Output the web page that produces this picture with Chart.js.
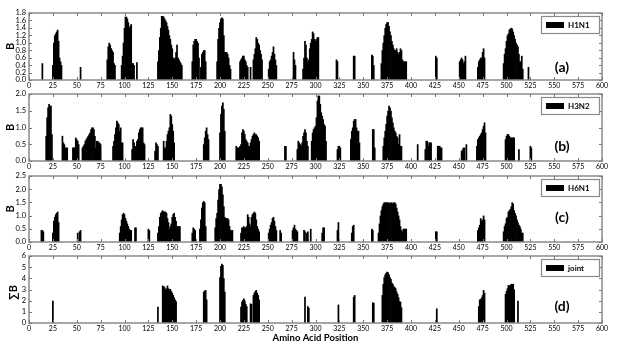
<!DOCTYPE html>
<html>
<head>
<meta charset="utf-8">
<script src="https://cdn.jsdelivr.net/npm/chart.js@4.4.1/dist/chart.umd.min.js"></script>
<style>
  html, body { margin: 0; padding: 0; background: #fff; }
  #wrap { position: relative; width: 633px; height: 354px; background: #fff; overflow: hidden; }
  #wrap canvas { position: absolute; left: 0; }
</style>
</head>
<body>
<div id="wrap">
  <canvas id="pa" width="633" height="92" style="top:0px"></canvas>
  <canvas id="pb" width="633" height="92" style="top:81px"></canvas>
  <canvas id="pc" width="633" height="91" style="top:163px"></canvas>
  <canvas id="pd" width="633" height="111" style="top:243px"></canvas>
</div>
<script>
// ---------------- DATA ----------------
// Each run: [first amino acid position, [B values for consecutive positions]]
const h1n1Runs = [
  [14,[0.45]],
  [25,[0.4,1.0,1.2,1.25,1.3,1.35,1.05,0.6,0.5,0.4]],
  [54,[0.35]],
  [82,[0.55,0.9,1.0,0.95,0.85,0.8,0.75,0.45,0.4]],
  [97,[0.4,0.65,1.0,1.4,1.7,1.7,1.65,1.55,1.4,1.45,1.5,0.45,0.45,0.4]],
  [113,[0.48]],
  [135,[0.5,0.8,1.15,1.4,1.72,1.72,1.7,1.65,1.6,1.55,1.45,1.35,1.2,1.1,0.95,0.85,0.6,0.55,0.6,0.75,0.95,0.6,0.55,0.5,0.45,0.4]],
  [171,[0.5,0.95,1.05,1.1,1.1,1.05,1.0,0.6]],
  [180,[0.35,0.7,0.75,0.8,0.8,0.5]],
  [197,[0.5,1.1,1.4,1.55,1.65,1.68,1.65,1.2,0.75,0.75,0.75,0.7,0.6,0.4,0.3]],
  [221,[0.5,0.55,0.6,0.65,0.65,0.55,0.5,0.4,0.35]],
  [232,[0.35]],
  [235,[0.55,0.7,0.85,1.15,1.1,1.0,0.95,0.8,0.7,0.55]],
  [251,[0.3,0.5,0.55,0.65,0.75,0.9,0.7,0.55,0.4]],
  [277,[0.75,0.55,0.4]],
  [287,[0.3,0.6,1.05,0.95,0.6,0.5,0.55,0.85,1.0,1.1,1.3,1.25,1.1,1.05,1.1,1.15,1.15]],
  [322,[0.55,0.5]],
  [340,[0.65,0.65]],
  [359,[0.68,0.65,0.4]],
  [369,[0.45,0.8,1.0,1.2,1.4,1.5,1.55,1.55,1.45,1.3,1.2,1.05,0.95,0.85,0.8,0.8,0.85,0.75,0.7,0.75,0.85,0.8,0.55,0.5,0.5,0.5,0.5]],
  [426,[0.65,0.6]],
  [451,[0.5,0.55,0.6,0.55,0.45,0.5,0.65]],
  [470,[0.35,0.5,0.55,0.6,0.6,0.75,0.85,0.6]],
  [497,[0.45,0.7,0.85,1.05,1.2,1.25,1.35,1.38,1.4,1.38,1.3,1.2,1.1,1.0,0.95,0.9,0.7,0.5,0.5,0.65,0.3]],
  [523,[0.35]]
];
const h3n2Runs = [
  [18,[0.75,1.3,1.6,1.7,1.65,1.65,0.8]],
  [35,[0.75,0.55,0.5,0.4,0.4,0.4]],
  [46,[0.4,0.4,0.4,0.7,0.65,0.6,0.5]],
  [56,[0.4,0.45,0.5,0.6,0.65,0.7,0.75,0.8,0.85,0.95,1.0,1.0,0.95,0.75,0.4,0.6,0.6,0.55,0.55,0.5]],
  [88,[0.45,0.6,0.8,1.0,1.2,1.15,1.1,0.9,1.0,0.55,0.55]],
  [108,[0.35,0.65,0.55,0.45,0.45,0.6,0.65,0.85,0.95,1.0,1.0,1.0,0.55,0.5]],
  [132,[0.3,0.55,0.5,0.45]],
  [141,[0.6,0.4,0.4,0.6,0.8,0.9,1.0,1.4,1.35,1.1,0.9,0.55]],
  [183,[0.5,0.7,0.9,1.0,0.8,0.65]],
  [200,[0.85,1.4,1.65,1.75,1.55,0.9]],
  [217,[0.45,0.4,0.4,0.4,0.45,0.5,0.85,0.95,0.9,0.8,0.65,0.6,0.55,0.45,0.45,0.55,0.65,0.75,0.8,0.85,0.8,0.8,0.75,0.7,0.6]],
  [268,[0.45,0.45]],
  [281,[0.35,0.6,0.55,0.5,0.45,0.55,0.75,0.85,0.95,0.85,0.6,0.45]],
  [296,[0.6,0.85,0.95,1.0,1.05,1.3,1.8,1.95,1.95,1.7,1.45,1.35,1.25,1.1,1.05,0.6]],
  [323,[0.35,0.45,0.45,0.4]],
  [337,[0.65,0.9,1.0,1.2,1.25,1.25,1.0,0.9,0.9,0.55]],
  [360,[0.95,0.95,0.4]],
  [371,[0.45,0.7,0.9,1.1,1.35,1.5,1.65,1.6,1.5,1.3,1.15,1.0,0.9,0.85,0.75,0.7,0.5,0.8,0.45,0.45]],
  [407,[0.5]],
  [415,[0.35,0.6,0.6,0.45,0.55,0.55,0.55]],
  [428,[0.45,0.45,0.45,0.4,0.4]],
  [453,[0.3,0.35,0.4,0.4]],
  [458,[0.5]],
  [469,[0.45,0.65,0.7,0.75,0.8,0.85,0.95,1.05,1.15,0.85]],
  [499,[0.65,0.75,0.8,0.8,0.75,0.7,0.7,0.7,0.7,0.7]],
  [513,[0.35]],
  [525,[0.45,0.4]]
];
const h6n1Runs = [
  [13,[0.45,0.45,0.4]],
  [25,[0.35,0.8,0.95,1.05,1.1,1.15,0.75]],
  [51,[0.35]],
  [53,[0.4,0.45]],
  [95,[0.35,0.6,0.85,1.05,1.1,1.05,0.9,0.8,0.7,0.6,0.5,0.45,0.45]],
  [111,[0.55,0.55]],
  [125,[0.5,0.45]],
  [135,[0.35,0.6,0.95,1.1,1.15,1.2,1.15,1.15,1.15,1.1,0.9,0.75,0.5,0.6,0.7,0.95,1.05,1.1,0.95,0.8,0.6,0.6,0.6,0.6]],
  [171,[0.35,0.55,0.5,0.45]],
  [179,[0.5,0.85,1.3,1.5,1.55,1.5,0.6]],
  [195,[0.55,0.9,1.1,1.6,2.0,2.2,2.2,2.1,1.8,1.35,0.95,0.9,0.9,0.9,0.85,0.6,0.45,0.45,0.45]],
  [222,[0.35,0.55,0.55,0.6,0.55,0.55,0.6,1.05,0.95,0.7,0.6,0.95,1.05,1.1,1.15,1.1,0.85,0.6,0.5,0.4]],
  [251,[0.35,0.5,0.65,0.75,0.9,0.95,0.8,0.6,0.45]],
  [263,[0.45,0.35]],
  [276,[0.45,0.55,0.65,0.5,0.45,0.4]],
  [288,[0.45,0.4]],
  [291,[0.35,0.4]],
  [295,[0.5]],
  [307,[0.35,0.55,0.55]],
  [323,[0.45,0.75]],
  [338,[0.35,0.6,0.65]],
  [359,[0.5,0.45]],
  [366,[0.35,0.7,1.0,1.2,1.35,1.45,1.5,1.5,1.5,1.5,1.5,1.5,1.45,1.5,1.5,1.45,1.5,1.5,1.45,1.3,1.15,1.0,0.85,0.6,0.45,0.4,0.5,0.5,0.5,0.5]],
  [426,[0.4,0.4]],
  [470,[0.45,0.55,0.65,0.9,0.8,0.85,1.0,0.85]],
  [497,[0.4,0.6,0.7,0.9,0.95,1.15,1.2,1.25,1.35,1.5,1.45,1.2,1.1,1.0,0.85,0.75,0.65,0.6,0.5,0.35,0.35]]
];
const jointRuns = [
  [25,[2.0]],
  [135,[1.45]],
  [140,[3.35,3.3,3.2,3.0,3.1,3.35,3.1,3.0,3.05,2.85,2.7,2.5,2.3,2.1,1.95]],
  [183,[2.8,2.9,2.95,2.1]],
  [200,[4.1,5.1,5.3,5.2,4.0,2.8]],
  [222,[1.45,1.9,2.05,2.2,2.0,1.7,1.5]],
  [232,[1.75,1.7]],
  [235,[2.5,2.7,2.85,2.95,2.7,2.5,2.1]],
  [289,[2.35]],
  [292,[1.5,1.35]],
  [324,[1.65]],
  [340,[2.35,2.5]],
  [360,[1.85,1.8]],
  [370,[2.5,3.5,4.1,4.35,4.5,4.6,4.55,4.35,4.1,3.95,3.6,3.5,3.3,3.2,3.1,2.8,2.6,2.3,1.95,1.9,1.4]],
  [427,[1.3]],
  [471,[1.5,2.1,2.15,2.3,2.5,2.95,2.7]],
  [499,[2.6,2.85,3.1,3.4,3.35,3.4,3.5,3.5,3.5,3.0]],
  [512,[2.0]]
];
const seriesNames = ['H1N1','H3N2','H6N1','joint'];
const panelTags   = ['(a)','(b)','(c)','(d)'];
const yTitles     = ['B','B','B','\u2211B'];
const yMaxes      = [1.8, 2.0, 2.5, 6];
const ySteps      = [0.2, 0.5, 0.5, 1];
const yDecimals   = [1, 1, 1, 0];
const xMin = 0, xMax = 600, xStep = 25;
const xTitle = 'Amino Acid Position';

// ---------------- LAYOUT / STYLE ----------------
const FONT = 'Lato, "Open Sans", sans-serif';
const panelLayout = [
  {id:'pa', padTop:13, xH:12, tagDy:-13, yTitleX:10},
  {id:'pb', padTop:13, xH:12, tagDy:-15, yTitleX:10},
  {id:'pc', padTop:13, xH:12, tagDy:-25, yTitleX:10},
  {id:'pd', padTop:13, xH:31, tagDy:-17, yTitleX:13}
];

function expand(runs){
  const pts = [];
  runs.forEach(([start, vals]) => vals.forEach((v, i) => pts.push({x: start + i, y: v})));
  return pts;
}

const decor = {
  id: 'decor',
  afterDatasetsDraw(chart, args, o) {
    const {ctx, chartArea: a} = chart;
    const xs = chart.scales.x, ys = chart.scales.y;
    ctx.save();
    // frame
    ctx.strokeStyle = '#8a8a8a';
    ctx.lineWidth = 1.5;
    ctx.strokeRect(a.left, a.top, a.right - a.left, a.bottom - a.top);
    // inward tick marks
    ctx.lineWidth = 1;
    ctx.strokeStyle = '#7a7a7a';
    ctx.beginPath();
    xs.ticks.forEach(t => {
      const p = Math.round(xs.getPixelForValue(t.value)) + 0.5;
      ctx.moveTo(p, a.bottom); ctx.lineTo(p, a.bottom - 3);
      ctx.moveTo(p, a.top); ctx.lineTo(p, a.top + 3);
    });
    ys.ticks.forEach(t => {
      const p = Math.round(ys.getPixelForValue(t.value)) + 0.5;
      ctx.moveTo(a.left, p); ctx.lineTo(a.left + 3, p);
      ctx.moveTo(a.right, p); ctx.lineTo(a.right - 3, p);
    });
    ctx.stroke();
    // legend box
    const bw = 58, bh = 17;
    const bx = a.right - 3 - bw, by = a.top + 3;
    ctx.fillStyle = '#fff';
    ctx.fillRect(bx, by, bw, bh);
    ctx.strokeStyle = '#8a8a8a';
    ctx.lineWidth = 1.2;
    ctx.strokeRect(bx + 0.5, by + 0.5, bw, bh);
    ctx.fillStyle = '#000';
    ctx.fillRect(bx + 5, by + 6, 18, 6);
    ctx.font = 'bold 8px ' + FONT;
    ctx.textBaseline = 'middle';
    ctx.textAlign = 'left';
    ctx.fillText(o.name, bx + 27, by + 9.5);
    // panel tag
    ctx.font = 'bold 14px ' + FONT;
    ctx.textAlign = 'center';
    ctx.fillText(o.tag, 562, a.bottom + o.tagDy);
    // y title
    ctx.save();
    ctx.translate(o.yTitleX, (a.top + a.bottom) / 2 + (o.tag === '(d)' ? 3 : 0));
    ctx.rotate(-Math.PI / 2);
    ctx.font = 'bold 11px ' + FONT;
    ctx.fillText(o.yTitle, 0, 0);
    ctx.restore();
    // x title
    if (o.xTitle) {
      ctx.font = 'bold 9.5px ' + FONT;
      ctx.textAlign = 'center';
      ctx.fillText(o.xTitle, (a.left + a.right) / 2, a.bottom + 15);
    }
    ctx.restore();
  }
};

const runsList = [h1n1Runs, h3n2Runs, h6n1Runs, jointRuns];

runsList.forEach((runs, i) => {
  const L = panelLayout[i];
  const dec = yDecimals[i];
  new Chart(document.getElementById(L.id), {
    type: 'bar',
    data: {
      datasets: [{
        label: seriesNames[i],
        data: expand(runs),
        backgroundColor: '#000',
        borderWidth: 0,
        barPercentage: 1.8,
        categoryPercentage: 1,
        grouped: false
      }]
    },
    options: {
      responsive: false,
      devicePixelRatio: 1,
      animation: false,
      events: [],
      layout: { padding: { top: L.padTop, right: 31, left: 0, bottom: 0 } },
      plugins: {
        legend: { display: false },
        tooltip: { enabled: false },
        decor: { name: seriesNames[i], tag: panelTags[i], tagDy: L.tagDy, yTitle: yTitles[i],
                 yTitleX: L.yTitleX, xTitle: i === 3 ? xTitle : null }
      },
      scales: {
        x: {
          type: 'linear', min: xMin, max: xMax, offset: false,
          grid: { display: false, drawTicks: false },
          border: { display: false },
          ticks: { stepSize: xStep, autoSkip: false, maxRotation: 0, padding: 2,
                   color: '#000', font: { family: FONT, size: 7 } },
          afterFit: s => { s.height = L.xH; }
        },
        y: {
          min: 0, max: yMaxes[i],
          grid: { display: false, drawTicks: false },
          border: { display: false },
          ticks: { stepSize: ySteps[i], autoSkip: false, padding: 3, color: '#000',
                   font: { family: FONT, size: 7.5 },
                   callback: v => Number(v).toFixed(dec) },
          afterFit: s => { s.width = 29; }
        }
      }
    },
    plugins: [decor]
  });
});
</script>
</body>
</html>
